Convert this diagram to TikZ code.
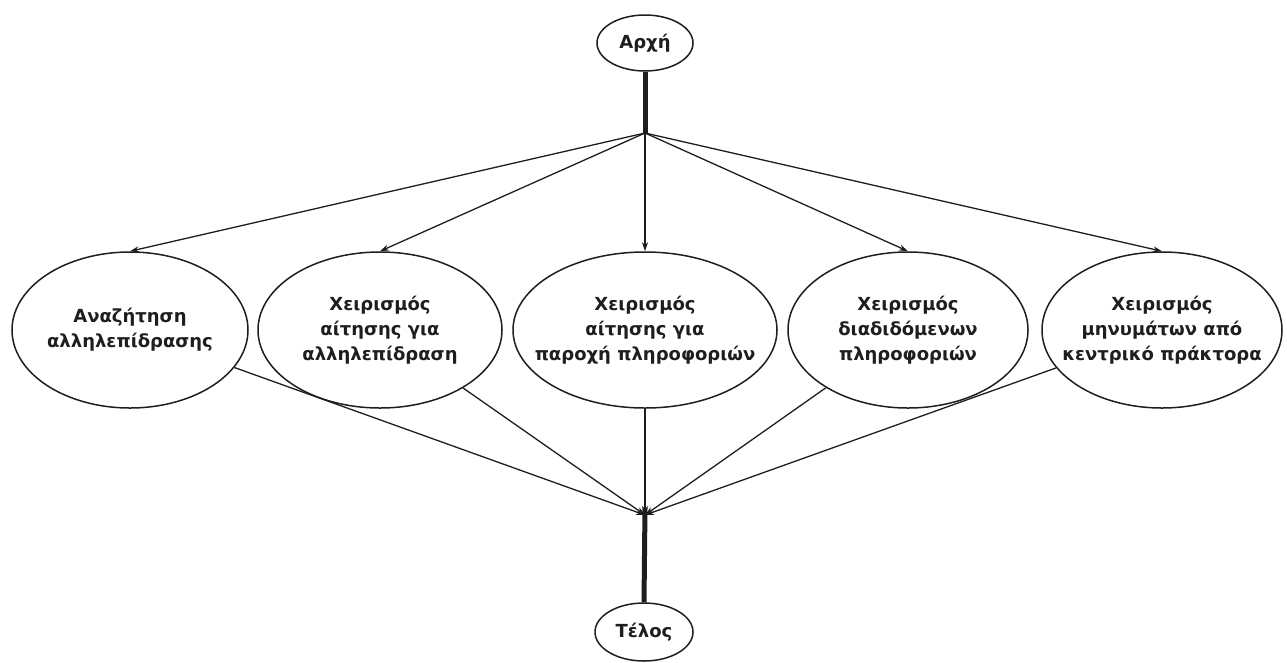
\documentclass[tikz,border=0pt]{standalone}
\usepackage{fontspec}
\setmainfont{DejaVu Sans}
\usetikzlibrary{shapes.geometric,arrows.meta}
\definecolor{ink}{HTML}{1E1E1E}
\begin{document}
\begin{tikzpicture}[x=1pt,y=-1pt,
  every node/.style={font=\bfseries\fontsize{18}{25}\selectfont, text=ink},
  state/.style={ellipse, draw=ink, line width=1.5pt, inner sep=0pt},
  txt/.style={align=center, inner sep=0pt},
  flow/.style={draw=ink, line width=1.3pt, -{Stealth[length=9pt,width=6pt]}},
  bar/.style={draw=ink, line width=5pt}]
\useasboundingbox (0,0) rectangle (1287,662);
\node[state, minimum width=96pt, minimum height=56pt] (start) at (645,43) {};
\node[txt] (startt) at (start.center) {Αρχή};
\coordinate (fork) at (645,133);
\node[state, minimum width=236pt, minimum height=156pt] (e1) at (130,330) {};
\node[txt] (e1t) at (e1.center) {Αναζήτηση\\αλληλεπίδρασης};
\node[state, minimum width=244pt, minimum height=156pt] (e2) at (380,330) {};
\node[txt] (e2t) at (e2.center) {Χειρισμός\\αίτησης για\\αλληλεπίδραση};
\node[state, minimum width=264pt, minimum height=156pt] (e3) at (645,330) {};
\node[txt] (e3t) at (e3.center) {Χειρισμός\\αίτησης για\\παροχή πληροφοριών};
\node[state, minimum width=240pt, minimum height=156pt] (e4) at (908,330) {};
\node[txt] (e4t) at (e4.center) {Χειρισμός\\διαδιδόμενων\\πληροφοριών};
\node[state, minimum width=240pt, minimum height=156pt] (e5) at (1162,330) {};
\node[txt] (e5t) at (e5.center) {Χειρισμός\\μηνυμάτων από\\κεντρικό πράκτορα};
\coordinate (join) at (645,515);
\node[state, minimum width=98pt, minimum height=58pt] (end) at (644,632) {};
\node[txt] (endt) at (end.center) {Τέλος};
\draw[bar] (start.south) -- (fork);
\draw[bar] (645,508) -- (end.north);
\foreach \e in {e1,e2,e3,e4,e5} {
  \draw[flow] (fork) -- (\e.north);
  \draw[flow] (\e) -- (join);
}
\end{tikzpicture}
\end{document}
